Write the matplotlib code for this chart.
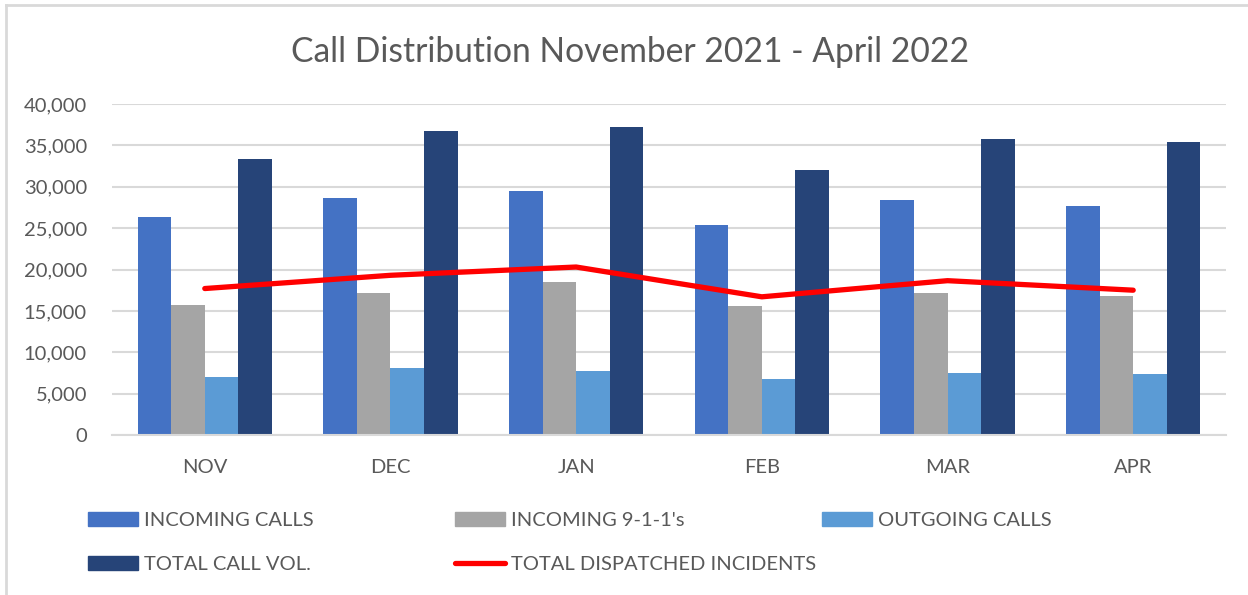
import numpy as np
import matplotlib.pyplot as plt
from matplotlib.patches import Patch
from matplotlib.lines import Line2D
from matplotlib.ticker import FuncFormatter

plt.rcParams['font.family'] = ['Lato', 'DejaVu Sans']

# data
months = ["NOV", "DEC", "JAN", "FEB", "MAR", "APR"]
incoming_calls = [26300, 28700, 29450, 25400, 28350, 27700]
incoming_911 = [15750, 17200, 18450, 15600, 17200, 16800]
outgoing_calls = [6950, 8050, 7700, 6750, 7550, 7400]
total_call_vol = [33300, 36700, 37200, 32050, 35800, 35400]
dispatched = [17700, 19300, 20300, 16700, 18650, 17500]

series_names = ["INCOMING CALLS", "INCOMING 9-1-1's", "OUTGOING CALLS", "TOTAL CALL VOL."]
line_name = "TOTAL DISPATCHED INCIDENTS"
colors = ["#4472C4", "#A5A5A5", "#5B9BD5", "#264478"]
red = "#FF0000"
txt = "#595959"

fig = plt.figure(figsize=(12.48, 5.95), dpi=100)
ax = fig.add_axes([0.0897, 0.2689, 0.8927, 0.5563])

x = np.arange(len(months))
w = 0.181
for i, vals in enumerate([incoming_calls, incoming_911, outgoing_calls, total_call_vol]):
    ax.bar(x + (i - 1.5) * w, vals, width=w, color=colors[i], zorder=2)

ax.plot(x, dispatched, color=red, lw=3.8, solid_capstyle='round', zorder=3)

ax.set_xlim(-0.5, 5.5)
ax.set_ylim(0, 40000)
ax.set_yticks(range(0, 40001, 5000))
ax.yaxis.set_major_formatter(FuncFormatter(lambda v, p: f"{int(v):,}"))
ax.set_xticks(x)
ax.set_xticklabels(months)
ax.tick_params(axis='both', length=0, labelsize=14.5, colors=txt)
ax.tick_params(axis='x', pad=17)
ax.tick_params(axis='y', pad=18)
ax.grid(axis='y', color="#D9D9D9", lw=1.5, zorder=0)
for s in ["top", "right", "left"]:
    ax.spines[s].set_visible(False)
ax.spines["bottom"].set_color("#D9D9D9")
ax.spines["bottom"].set_linewidth(1.5)

fig.text(0.505, 0.913, "Call Distribution November 2021 - April 2022",
         ha='center', va='center', fontsize=24.2, color=txt)

# legend built as three columns
h = [Patch(color=c) for c in colors]
hl = Line2D([0], [0], color=red, lw=3.8, solid_capstyle='round')
cols = [([h[0], h[3]], [series_names[0], series_names[3]], 88),
        ([h[1], hl], [series_names[1], line_name], 455),
        ([h[2]], [series_names[2]], 822)]
for hs, ls, px in cols:
    leg = fig.legend(hs, ls, loc='upper left', bbox_to_anchor=(px / 1248, 1 - 512 / 595),
                     frameon=False, fontsize=14.5, handlelength=2.5, handletextpad=0.3,
                     labelspacing=1.35, borderpad=0, borderaxespad=0)
    for t in leg.get_texts():
        t.set_color(txt)

# chart border (left and top edges visible)
fig.add_artist(Line2D([6 / 1248, 6 / 1248], [0, 1 - 5 / 595], color="#D9D9D9", lw=2))
fig.add_artist(Line2D([6 / 1248, 1], [1 - 5 / 595, 1 - 5 / 595], color="#D9D9D9", lw=2))

fig.savefig("out.png", dpi=100)
